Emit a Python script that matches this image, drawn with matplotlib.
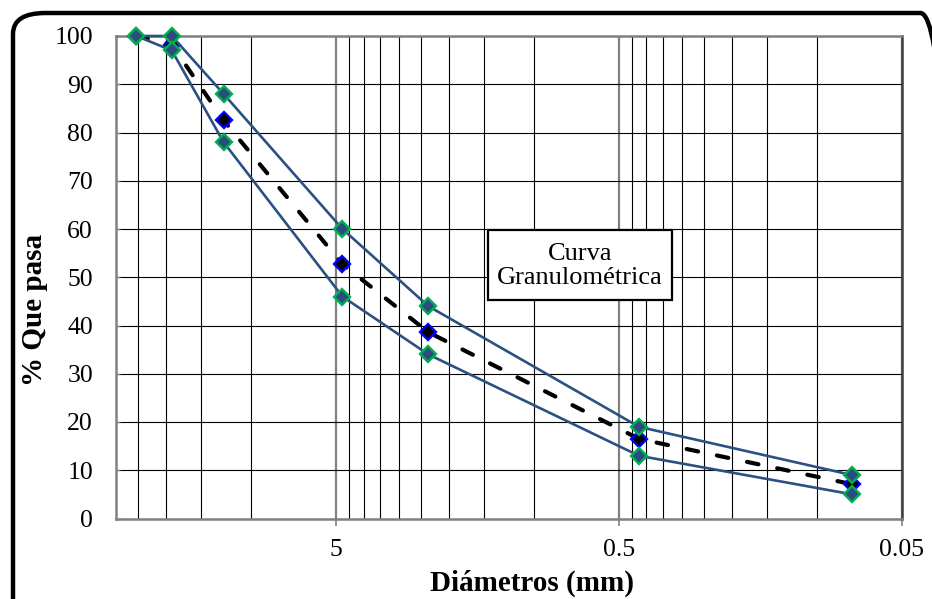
import matplotlib
matplotlib.use('Agg')
import matplotlib.pyplot as plt
from matplotlib.ticker import FixedLocator, NullFormatter
from matplotlib.patches import FancyBboxPatch, Rectangle

plt.rcParams['font.family'] = ['Liberation Serif', 'DejaVu Serif']

# sieve openings (mm) and % passing
diametros = [25.4, 19.05, 12.5, 4.75, 2.36, 0.425, 0.075]
limite_sup = [100, 100, 88, 60, 44, 19, 9]
limite_inf = [100, 97, 78, 46, 34, 13, 5]
muestra = [100, 98.2, 82.5, 52.7, 38.6, 16.5, 7.1]

x_ticks = [5, 0.5, 0.05]
x_ticklabels = ['5', '0.5', '0.05']
y_ticks = list(range(0, 101, 10))

W, H = 932, 599
fig = plt.figure(figsize=(W / 100, H / 100), dpi=100)
ax = fig.add_axes([116 / W, 1 - 518.5 / H, (902 - 116) / W, (518.5 - 36) / H])

line_col = '#2B5183'
ax.plot(diametros, muestra, color='black', lw=3.0, dashes=(2.8, 4.6),
        dash_capstyle='round', marker='D', ms=8, mfc='black', mec='#0000FF',
        mew=1.7, zorder=3)
for serie in (limite_sup, limite_inf):
    ax.plot(diametros, serie, color=line_col, lw=1.9, marker='D', ms=8,
            mfc='#2B4C7E', mec='#00B050', mew=1.7, zorder=4, clip_on=False)

ax.set_xscale('log')
ax.set_xlim(30, 0.05)
ax.set_ylim(0, 100)

ax.xaxis.set_major_locator(FixedLocator(x_ticks))
ax.set_xticklabels(x_ticklabels)
minors = [b * k for b in (5, 0.5, 0.05) for k in range(2, 10) if b * k < 30]
ax.xaxis.set_minor_locator(FixedLocator(minors))
ax.xaxis.set_minor_formatter(NullFormatter())
ax.set_yticks(y_ticks)

ax.grid(which='major', axis='x', color='#808080', lw=1.6)
ax.grid(which='minor', axis='x', color='black', lw=0.8)
ax.grid(which='major', axis='y', color='black', lw=0.8)
ax.set_axisbelow(True)

ax.tick_params(axis='x', which='major', direction='out', length=5, width=1.2,
               color='#808080', labelsize=18.5, pad=10)
ax.tick_params(axis='x', which='minor', length=0)
ax.tick_params(axis='y', direction='in', length=3, width=1, color='#808080',
               labelsize=18.5, pad=16.5)
for s in ax.spines.values():
    s.set_color('#808080')
    s.set_linewidth(1.8)
ax.spines['right'].set_color('#404040')

fig.text(35 / W, 1 - 310 / H, '% Que pasa', rotation=90, ha='center',
         va='center', fontsize=21, fontweight='bold')
fig.text(532 / W, 1 - 583 / H, 'Diámetros (mm)', ha='center', va='center',
         fontsize=21, fontweight='bold')

# label box
fig.patches.append(Rectangle((488 / W, 1 - 300 / H), (672 - 488) / W, 70 / H,
                             transform=fig.transFigure, facecolor='white',
                             edgecolor='black', lw=1.6, zorder=5))
fig.text(580 / W, 1 - 266 / H, 'Curva\nGranulométrica', ha='center',
         va='center', fontsize=19, linespacing=1.15, zorder=6)

# outer rounded frame (cut by the right/bottom image edge)
fig.patches.append(FancyBboxPatch((13 / W, 1 - 620 / H), 940 / W, 607 / H,
                                  boxstyle='round,pad=0,rounding_size=0.035',
                                  transform=fig.transFigure, facecolor='none',
                                  edgecolor='black', lw=3.2, zorder=10))

fig.savefig('out.png', dpi=100)
